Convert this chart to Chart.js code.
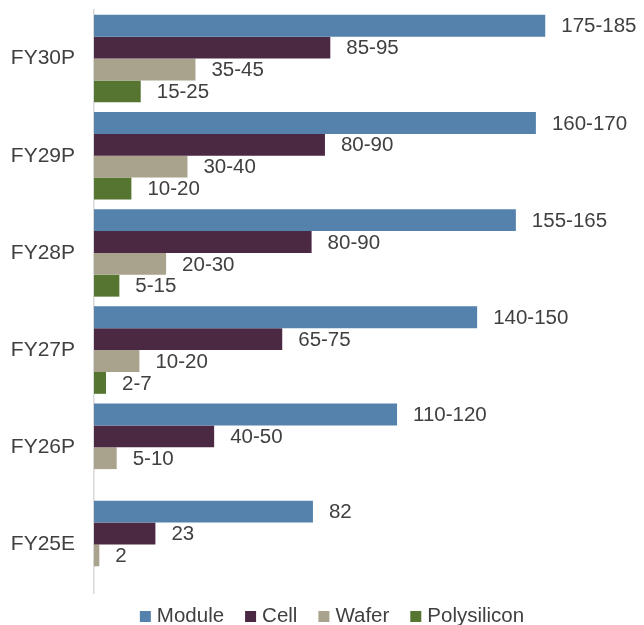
<!DOCTYPE html>
<html>
<head>
<meta charset="utf-8">
<script src="https://cdn.jsdelivr.net/npm/chart.js@4.4.1/dist/chart.umd.min.js"></script>
<style>
  html, body { margin: 0; padding: 0; background: #fff; overflow: hidden; }
  canvas { display: block; }
</style>
</head>
<body>
<canvas id="capacityChart" width="644" height="625"></canvas>
<script>
// Categories (top to bottom)
const years = ["FY30P", "FY29P", "FY28P", "FY27P", "FY26P", "FY25E"];

// Bar lengths
const moduleValues = [169, 165.5, 158, 143.5, 113.5, 82];
const cellValues = [88.5, 86.5, 81.5, 70.5, 45, 23];
const waferValues = [38, 35, 27, 17, 8.5, 2];
const polyValues = [17.5, 14, 9.5, 4.5, null, null];

// Text shown next to each bar
const moduleLabels = ["175-185", "160-170", "155-165", "140-150", "110-120", "82"];
const cellLabels = ["85-95", "80-90", "80-90", "65-75", "40-50", "23"];
const waferLabels = ["35-45", "30-40", "20-30", "10-20", "5-10", "2"];
const polyLabels = ["15-25", "10-20", "5-15", "2-7", "", ""];

const FONT = "'Liberation Sans', Arial, sans-serif";
const TEXT_COLOR = "#404040";

// Value labels at the end of each bar
const barLabels = {
  id: "barLabels",
  afterDatasetsDraw(chart) {
    const ctx = chart.ctx;
    ctx.save();
    ctx.font = "20.5px " + FONT;
    ctx.fillStyle = TEXT_COLOR;
    ctx.textAlign = "left";
    ctx.textBaseline = "middle";
    chart.data.datasets.forEach((ds, i) => {
      const meta = chart.getDatasetMeta(i);
      meta.data.forEach((bar, j) => {
        if (ds.data[j] == null) return;
        const txt = ds.valueLabels[j];
        if (!txt) return;
        ctx.fillText(txt, bar.x + 16, bar.y + 1);
      });
    });
    ctx.restore();
  }
};

// Legend drawn under the plot
const bottomLegend = {
  id: "bottomLegend",
  afterDraw(chart) {
    const ctx = chart.ctx;
    ctx.save();
    ctx.font = "20.5px " + FONT;
    const box = 11, gap = 6, spacing = 21;
    const items = chart.data.datasets.map(ds => ({
      text: ds.label,
      color: ds.backgroundColor,
      w: ctx.measureText(ds.label).width
    }));
    let total = 0;
    items.forEach((it, i) => { total += box + gap + it.w + (i < items.length - 1 ? spacing : 0); });
    let x = chart.width / 2 + 10 - total / 2;
    const yMid = 616;
    ctx.textBaseline = "middle";
    items.forEach(it => {
      ctx.fillStyle = it.color;
      ctx.fillRect(x, yMid - 5, box, box);
      x += box + gap;
      ctx.fillStyle = TEXT_COLOR;
      ctx.fillText(it.text, x, yMid);
      x += it.w + spacing;
    });
    ctx.restore();
  }
};

const ctx = document.getElementById("capacityChart").getContext("2d");

new Chart(ctx, {
  type: "bar",
  data: {
    labels: years,
    datasets: [
      { label: "Module", data: moduleValues, valueLabels: moduleLabels, backgroundColor: "#5482ac" },
      { label: "Cell", data: cellValues, valueLabels: cellLabels, backgroundColor: "#4c2942" },
      { label: "Wafer", data: waferValues, valueLabels: waferLabels, backgroundColor: "#a9a28d" },
      { label: "Polysilicon", data: polyValues, valueLabels: polyLabels, backgroundColor: "#557530" }
    ]
  },
  options: {
    indexAxis: "y",
    responsive: false,
    animation: false,
    layout: { padding: { left: 11, right: 16, top: 10, bottom: 32 } },
    datasets: {
      bar: { categoryPercentage: 0.9, barPercentage: 1.0, borderWidth: 0 }
    },
    scales: {
      x: { display: false, min: 0, max: 200 },
      y: {
        grid: { display: false, drawTicks: false },
        border: { display: true, color: "#d9d9d9", width: 1.5 },
        ticks: { color: TEXT_COLOR, font: { family: FONT, size: 21 }, padding: 19 },
        afterFit(scale) {
          scale.width = 83;
          scale.paddingTop = 0;
          scale.paddingBottom = 0;
        }
      }
    },
    plugins: {
      legend: { display: false },
      tooltip: { enabled: false }
    }
  },
  plugins: [barLabels, bottomLegend]
});
</script>
</body>
</html>
